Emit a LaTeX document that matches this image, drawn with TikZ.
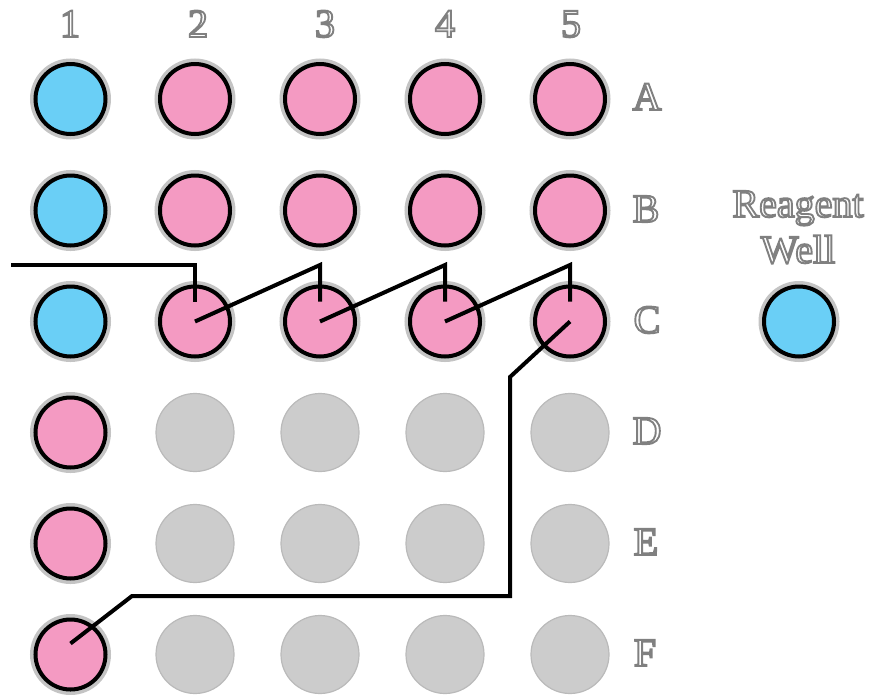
\documentclass[tikz,border=0pt]{standalone}
\usepackage{fontspec}
\setmainfont{Liberation Serif}
\definecolor{wellpink}{HTML}{F49AC2}
\definecolor{wellblue}{HTML}{6ACFF6}
\definecolor{emptygray}{HTML}{CCCCCC}
\definecolor{halogray}{HTML}{C4C4C4}
\newcommand{\olabel}[1]{{\color{white}\special{pdf:literal direct 0.5 G 2 Tr 1.9 w}#1\special{pdf:literal direct 0 Tr 0 G}}}
\tikzset{
  fullwell/.style={circle, inner sep=0pt, minimum size=70pt, draw=black, line width=4pt,
    preaction={draw=halogray, line width=11pt}},
  pinkwell/.style={fullwell, fill=wellpink},
  bluewell/.style={fullwell, fill=wellblue},
  emptywell/.style={circle, inner sep=0pt, minimum size=78pt, fill=emptygray, draw=halogray!95!black, line width=1.2pt},
  lbl/.style={font=\fontsize{40}{46}\selectfont, inner sep=0pt, anchor=base},
  pipe/.style={draw=black, line width=4pt, line join=miter}
}
\begin{document}
\begin{tikzpicture}[x=1pt,y=-1pt]
\useasboundingbox (0,0) rectangle (873,694);
% column labels
\node[lbl] (c1) at (70,37) {\olabel{1}};
\node[lbl] (c2) at (198,37) {\olabel{2}};
\node[lbl] (c3) at (325,37) {\olabel{3}};
\node[lbl] (c4) at (445,37) {\olabel{4}};
\node[lbl] (c5) at (571,37) {\olabel{5}};
% row labels
\node[lbl] (rA) at (647,110) {\olabel{A}};
\node[lbl] (rB) at (646,222) {\olabel{B}};
\node[lbl] (rC) at (647,333) {\olabel{C}};
\node[lbl] (rD) at (647,444) {\olabel{D}};
\node[lbl] (rE) at (646,555) {\olabel{E}};
\node[lbl] (rF) at (645,666) {\olabel{F}};
% reagent label
\node[lbl] (rg1) at (798,217) {\olabel{Reagent}};
\node[lbl] (rg2) at (798,263) {\olabel{Well}};
% row A
\node[bluewell] (A1) at (70.5,99) {};
\node[pinkwell] (A2) at (195,99) {};
\node[pinkwell] (A3) at (320,99) {};
\node[pinkwell] (A4) at (445,99) {};
\node[pinkwell] (A5) at (570,99) {};
% row B
\node[bluewell] (B1) at (70.5,210.5) {};
\node[pinkwell] (B2) at (195,210.5) {};
\node[pinkwell] (B3) at (320,210.5) {};
\node[pinkwell] (B4) at (445,210.5) {};
\node[pinkwell] (B5) at (570,210.5) {};
% row C
\node[bluewell] (C1) at (70.5,321.5) {};
\node[pinkwell] (C2) at (195,321.5) {};
\node[pinkwell] (C3) at (320,321.5) {};
\node[pinkwell] (C4) at (445,321.5) {};
\node[pinkwell] (C5) at (570,321.5) {};
% row D
\node[pinkwell] (D1) at (70.5,432.5) {};
\node[emptywell] (D2) at (195,432.5) {};
\node[emptywell] (D3) at (320,432.5) {};
\node[emptywell] (D4) at (445,432.5) {};
\node[emptywell] (D5) at (570,432.5) {};
% row E
\node[pinkwell] (E1) at (70.5,543.5) {};
\node[emptywell] (E2) at (195,543.5) {};
\node[emptywell] (E3) at (320,543.5) {};
\node[emptywell] (E4) at (445,543.5) {};
\node[emptywell] (E5) at (570,543.5) {};
% row F
\node[pinkwell] (F1) at (70.5,654.5) {};
\node[emptywell] (F2) at (195,654.5) {};
\node[emptywell] (F3) at (320,654.5) {};
\node[emptywell] (F4) at (445,654.5) {};
\node[emptywell] (F5) at (570,654.5) {};
% reagent well
\node[bluewell] (RW) at (799,321.5) {};
% path
\coordinate (start) at (11,265);
\coordinate (k1) at (510,377);
\coordinate (k2) at (510,596);
\coordinate (k3) at (132,596);
\draw[pipe] (start) -- (start -| C2) -- ([yshift=20pt]C2.center);
\draw[pipe] (C2.center) -- (start -| C3) -- ([yshift=20pt]C3.center);
\draw[pipe] (C3.center) -- (start -| C4) -- ([yshift=20pt]C4.center);
\draw[pipe] (C4.center) -- (start -| C5) -- ([yshift=20pt]C5.center);
\draw[pipe] (C5.center) -- (k1) -- (k2) -- (k3) -- ([yshift=11pt]F1.center);
\end{tikzpicture}
\end{document}
